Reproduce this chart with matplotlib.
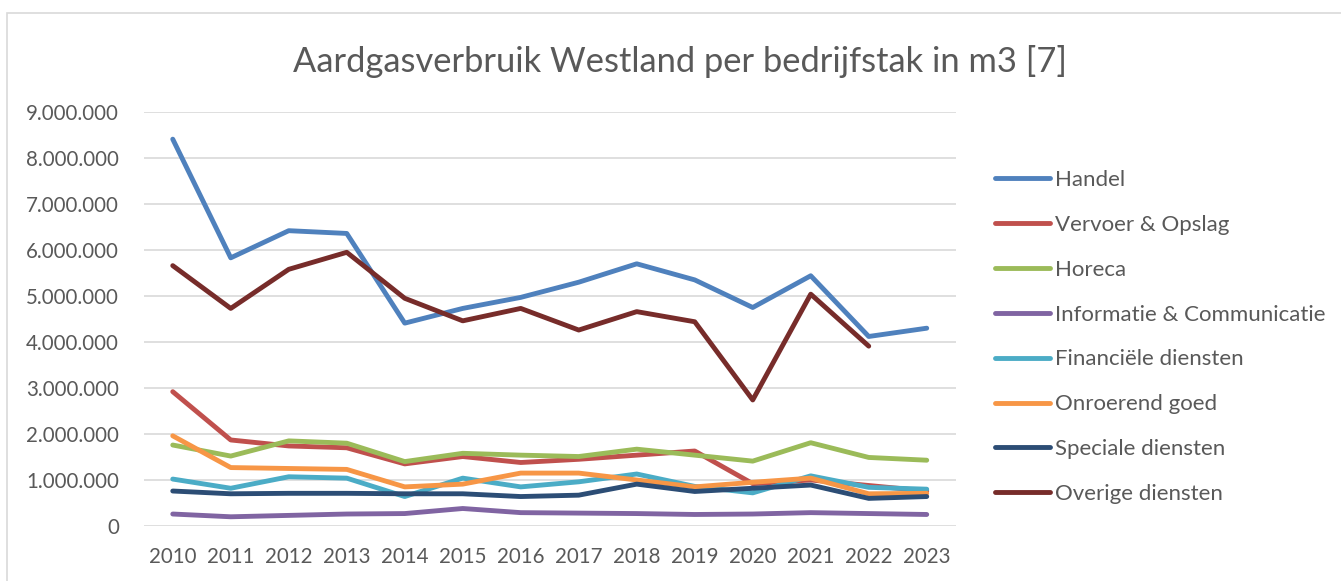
import matplotlib
import matplotlib.pyplot as plt
from matplotlib.patches import Rectangle
from matplotlib.ticker import FuncFormatter, MultipleLocator
import numpy as np

matplotlib.use("Agg")

years = list(range(2010, 2024))

# values in m3
handel = [8410000, 5830000, 6420000, 6360000, 4410000, 4730000, 4970000,
          5300000, 5700000, 5350000, 4750000, 5440000, 4120000, 4300000]
vervoer = [2920000, 1870000, 1740000, 1700000, 1350000, 1510000, 1380000,
           1450000, 1540000, 1630000, 920000, 1000000, 880000, 760000]
horeca = [1760000, 1520000, 1850000, 1800000, 1400000, 1580000, 1540000,
          1510000, 1670000, 1540000, 1410000, 1810000, 1490000, 1430000]
informatie = [260000, 200000, 230000, 260000, 270000, 380000, 290000,
              280000, 270000, 250000, 260000, 290000, 270000, 250000]
financieel = [1020000, 820000, 1070000, 1040000, 640000, 1040000, 850000,
              960000, 1130000, 860000, 720000, 1090000, 840000, 800000]
onroerend = [1960000, 1270000, 1250000, 1230000, 850000, 910000, 1150000,
             1150000, 1000000, 850000, 950000, 1040000, 700000, 710000]
speciale = [760000, 700000, 710000, 710000, 700000, 700000, 640000,
            670000, 910000, 750000, 820000, 890000, 600000, 640000]
overige = [5660000, 4730000, 5580000, 5950000, 4950000, 4460000, 4730000,
           4260000, 4660000, 4440000, 2740000, 5040000, 3910000, np.nan]

series = [
    ("Handel", handel, "#4F81BD"),
    ("Vervoer & Opslag", vervoer, "#C0504D"),
    ("Horeca", horeca, "#9BBB59"),
    ("Informatie & Communicatie", informatie, "#8064A2"),
    ("Financiële diensten", financieel, "#4BACC6"),
    ("Onroerend goed", onroerend, "#F79646"),
    ("Speciale diensten", speciale, "#2C4D75"),
    ("Overige diensten", overige, "#772C2A"),
]

text_color = "#595959"
plt.rcParams["font.family"] = ["Lato", "DejaVu Sans"]

fig = plt.figure(figsize=(13.41, 5.81), dpi=100)
# light grey chart border (extends past right/bottom edge)
fig.patches.append(Rectangle((7 / 1341, -0.1), 1.2, 1 - 13 / 581 + 0.1,
                             transform=fig.transFigure, fill=False,
                             edgecolor="#D9D9D9", linewidth=1.2))

ax = fig.add_axes([0.1072, 0.0947, 0.6055, 0.7125])
for name, vals, color in series:
    ax.plot(years, vals, color=color, linewidth=3.5, label=name,
            solid_capstyle="round", solid_joinstyle="round")

ax.set_xlim(2009.5, 2023.5)
ax.set_ylim(0, 9000000)
ax.yaxis.set_major_locator(MultipleLocator(1000000))
ax.yaxis.set_major_formatter(FuncFormatter(lambda v, p: f"{int(v):,}".replace(",", ".")))
ax.set_xticks(years)
ax.grid(axis="y", color="#D9D9D9", linewidth=1.2)
ax.set_axisbelow(True)
for s in ax.spines.values():
    s.set_visible(False)
ax.tick_params(axis="both", length=0, labelsize=14.8, colors=text_color)
ax.tick_params(axis="y", pad=18)
ax.tick_params(axis="x", pad=15)

fig.text(0.507, 0.895, "Aardgasverbruik Westland per bedrijfstak in m3 [7]",
         ha="center", va="center", fontsize=24.8, color=text_color)

leg = ax.legend(loc="upper left", bbox_to_anchor=(986 / 1341, 1 - 161 / 581),
                bbox_transform=fig.transFigure, frameon=False, fontsize=16,
                handlelength=2.5, handletextpad=0.22, labelspacing=1.12,
                borderaxespad=0)
for t in leg.get_texts():
    t.set_color(text_color)

plt.savefig("out.png", dpi=100)
